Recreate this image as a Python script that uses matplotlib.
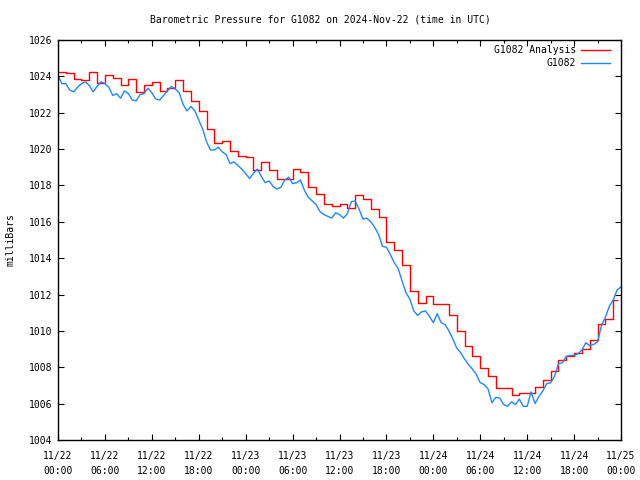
import matplotlib
matplotlib.use("Agg")
import matplotlib.pyplot as plt
import matplotlib.dates as mdates
import numpy as np
import pandas as pd

start = pd.Timestamp("2024-11-22 00:00")

# G1082 Analysis, hourly values (step line)
analysis_hours = list(range(0, 72)) + [71.5]
analysis_mb = [
    1024.25, 1024.2, 1023.85, 1023.8, 1024.22, 1023.65, 1024.05, 1023.9,
    1023.5, 1023.85, 1023.12, 1023.55, 1023.7, 1023.17, 1023.35, 1023.8,
    1023.2, 1022.66, 1022.1, 1021.1, 1020.32, 1020.45, 1019.9, 1019.64,
    1019.55, 1018.85, 1019.31, 1018.85, 1018.34, 1018.34, 1018.89, 1018.72,
    1017.93, 1017.53, 1016.96, 1016.87, 1017.0, 1016.75, 1017.47, 1017.24,
    1016.69, 1016.25, 1014.9, 1014.45, 1013.62, 1012.21, 1011.51, 1011.92,
    1011.48, 1011.5, 1010.86, 1010.02, 1009.17, 1008.64, 1007.94, 1007.54,
    1006.84, 1006.84, 1006.47, 1006.57, 1006.57, 1006.9, 1007.3, 1007.8,
    1008.4, 1008.64, 1008.8, 1009.0, 1009.5, 1010.4, 1010.65, 1011.7,
    1011.7,
]

# G1082 observations, every 30 minutes
obs_hours = np.arange(0, 72.5, 0.5)
obs_mb = [
    1024.05, 1023.6, 1023.6, 1023.25, 1023.15, 1023.4, 1023.6, 1023.7,
    1023.5, 1023.15, 1023.45, 1023.7, 1023.6, 1023.4, 1022.95, 1023.05,
    1022.8, 1023.2, 1023.05, 1022.7, 1022.65, 1023.0, 1023.05, 1023.35,
    1023.1, 1022.75, 1022.7, 1022.95, 1023.2, 1023.45, 1023.3, 1023.1,
    1022.45, 1022.1, 1022.35, 1022.1, 1021.6, 1021.1, 1020.4, 1019.95,
    1019.95, 1020.1, 1019.85, 1019.7, 1019.2, 1019.3, 1019.1, 1018.9,
    1018.65, 1018.38, 1018.67, 1018.9, 1018.5, 1018.15, 1018.25, 1017.95,
    1017.8, 1017.9, 1018.3, 1018.45, 1018.1, 1018.15, 1018.3, 1017.75,
    1017.35, 1017.15, 1016.95, 1016.56, 1016.4, 1016.3, 1016.2, 1016.5,
    1016.4, 1016.2, 1016.45, 1017.1, 1017.15, 1016.7, 1016.15, 1016.2,
    1016.0, 1015.7, 1015.3, 1014.65, 1014.6, 1014.2, 1013.75, 1013.44,
    1012.75, 1012.1, 1011.75, 1011.1, 1010.85, 1011.05, 1011.1, 1010.8,
    1010.45, 1010.95, 1010.45, 1010.35, 1010.0, 1009.55, 1009.05, 1008.8,
    1008.45, 1008.15, 1007.9, 1007.6, 1007.15, 1007.05, 1006.8, 1006.05,
    1006.35, 1006.3, 1005.95, 1005.85, 1006.1, 1005.95, 1006.25, 1005.85,
    1005.85, 1006.65, 1006.0, 1006.4, 1006.7, 1007.1, 1007.15, 1007.5,
    1008.2, 1008.25, 1008.6, 1008.65, 1008.65, 1008.75, 1008.95, 1009.35,
    1009.2, 1009.25, 1009.4, 1010.3, 1010.75, 1011.35, 1011.7, 1012.25,
    1012.42,
]

analysis_t = start + pd.to_timedelta(analysis_hours, unit="h")
obs_t = start + pd.to_timedelta(obs_hours, unit="h")

plt.rcParams['font.family'] = ['DejaVu Sans Mono']
plt.rcParams['font.size'] = 7

fig = plt.figure(figsize=(6.4, 4.8), dpi=100)
ax = fig.add_axes([58/640, 40/480, 563/640, 400/480])

ax.plot(analysis_t, analysis_mb, drawstyle='steps-post', color='#ff0000', lw=1.0)
ax.plot(obs_t, obs_mb, color='#1e88ff', lw=1.0)

ax.set_xlim(start, start + pd.Timedelta(hours=72))
ax.set_ylim(1004, 1026)
ax.set_yticks(np.arange(1004, 1027, 2))

ax.xaxis.set_major_locator(mdates.HourLocator(byhour=[0, 6, 12, 18]))
ax.xaxis.set_minor_locator(mdates.HourLocator(byhour=range(0, 24, 3)))
ax.xaxis.set_major_formatter(mdates.DateFormatter('%m/%d\n%H:%M'))

ax.tick_params(which='both', direction='in', top=True, right=True, width=0.8)
ax.tick_params(which='major', length=4.5)
ax.tick_params(which='minor', length=2.5)
ax.tick_params(axis='x', pad=8)
ax.tick_params(axis='y', pad=4)
for lbl in ax.get_xticklabels():
    lbl.set_linespacing(1.6)
for sp in ax.spines.values():
    sp.set_linewidth(1.0)

ax.set_ylabel('milliBars', labelpad=10)
fig.text(0.5, 1 - 20/480, 'Barometric Pressure for G1082 on 2024-Nov-22 (time in UTC)',
         ha='center', va='center')

# legend drawn like gnuplot's key (right aligned text)
for yk, lab, col in [(0.975, 'G1082 Analysis', '#ff0000'), (0.9425, 'G1082', '#1e88ff')]:
    ax.text(0.92, yk, lab, transform=ax.transAxes, ha='right', va='center')
    ax.plot([0.929, 0.980], [yk, yk], transform=ax.transAxes, color=col, lw=1.0)

fig.savefig('out.png', dpi=100)
